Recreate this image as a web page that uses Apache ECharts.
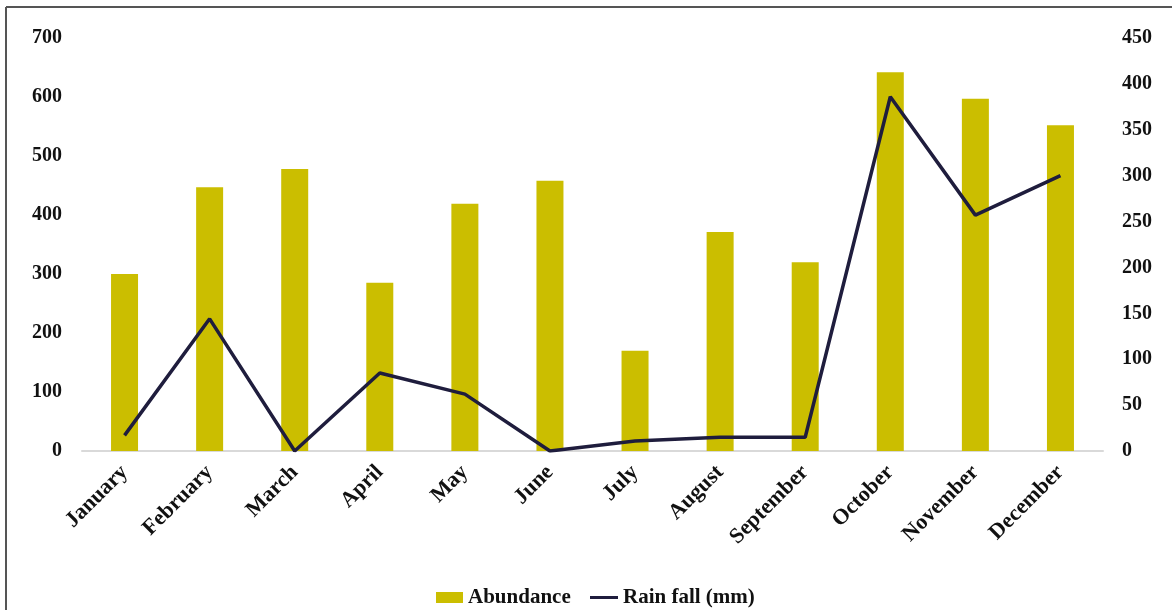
<!DOCTYPE html>
<html><head><meta charset="utf-8">
<script src="https://cdn.jsdelivr.net/npm/echarts@6/dist/echarts.min.js"></script>
<style>html,body{margin:0;padding:0;background:#fff}#c{width:1172px;height:610px}</style>
</head><body><div id="c"></div>
<script>
const categories = ['January','February','March','April','May','June','July','August','September','October','November','December'];
const abundance = [300, 447, 478, 285, 419, 458, 170, 371, 320, 642, 597, 552];
const rainfall = [17, 144, 0, 85, 62, 0, 11, 15, 15, 386, 257, 300];
const leftTicks = [0, 700, 100];
const rightTicks = [0, 450, 50];

const font = 'Liberation Serif';
const legendText = {fontFamily: font, fontWeight: 'bold', fontSize: 21, color: '#111'};
const chart = echarts.init(document.getElementById('c'));
chart.setOption({
  animation: false,
  backgroundColor: '#fff',
  graphic: [
    {type:'line', shape:{x1:6,y1:7,x2:1172,y2:7}, style:{stroke:'#555',lineWidth:2}},
    {type:'line', shape:{x1:6,y1:7,x2:6,y2:610}, style:{stroke:'#555',lineWidth:2}}
  ],
  grid: {left: 82, right: 69, top: 38, bottom: 159},
  legend: [
    {left: 431, top: 582, itemWidth: 27, itemHeight: 11,
     textStyle: legendText,
     data: [{name: 'Abundance', icon: 'rect'}]},
    {left: 585, top: 582, itemWidth: 28, itemHeight: 3,
     textStyle: legendText,
     data: [{name: 'Rain fall (mm)', icon: 'rect'}]}
  ],
  xAxis: {
    type: 'category', data: categories,
    axisLine: {lineStyle: {color: '#d9d9d9', width: 2}},
    axisTick: {show: false},
    axisLabel: {rotate: 45, interval: 0, fontFamily: font, fontWeight: 'bold', fontSize: 22, color: '#111', margin: 18}
  },
  yAxis: [
    {type: 'value', min: leftTicks[0], max: leftTicks[1], interval: leftTicks[2],
     splitLine: {show: false}, axisLine: {show: false}, axisTick: {show: false},
     axisLabel: {fontFamily: font, fontWeight: 'bold', fontSize: 20, color: '#111', margin: 20}},
    {type: 'value', min: rightTicks[0], max: rightTicks[1], interval: rightTicks[2],
     splitLine: {show: false}, axisLine: {show: false}, axisTick: {show: false},
     axisLabel: {fontFamily: font, fontWeight: 'bold', fontSize: 20, color: '#111', margin: 19}}
  ],
  series: [
    {name: 'Abundance', type: 'bar', data: abundance, barWidth: 27, itemStyle: {color: '#CBBE00'}},
    {name: 'Rain fall (mm)', type: 'line', yAxisIndex: 1, data: rainfall, symbol: 'none',
     lineStyle: {color: '#1f1d3d', width: 3.5}, itemStyle: {color: '#1f1d3d'}}
  ]
});
</script></body></html>
